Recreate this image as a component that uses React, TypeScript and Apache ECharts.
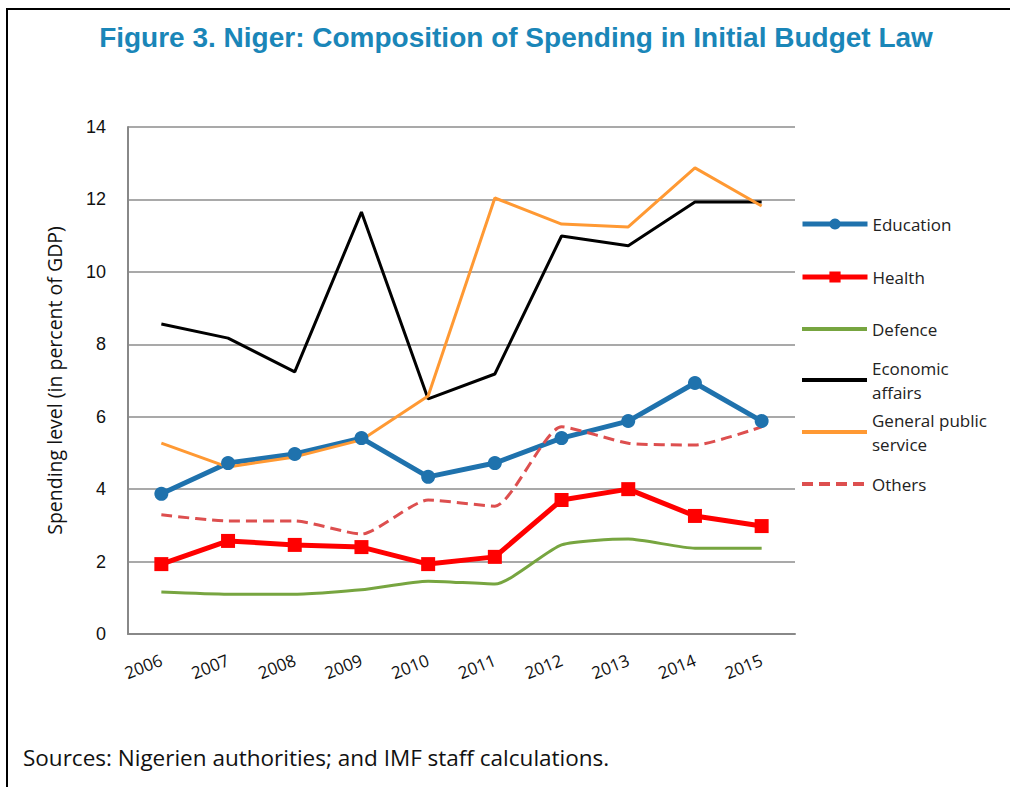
import React, { useEffect, useRef } from "react";
import * as echarts from "echarts";

const years = ["2006", "2007", "2008", "2009", "2010", "2011", "2012", "2013", "2014", "2015"];
const education = [3.87, 4.72, 4.97, 5.41, 4.34, 4.72, 5.41, 5.88, 6.93, 5.88];
const health = [1.93, 2.57, 2.46, 2.4, 1.93, 2.13, 3.7, 4.0, 3.26, 2.98];
const defence = [1.16, 1.1, 1.1, 1.22, 1.46, 1.38, 2.46, 2.62, 2.37, 2.37];
const economic = [8.56, 8.17, 7.24, 11.65, 6.49, 7.18, 10.99, 10.72, 11.93, 11.93];
const general = [5.27, 4.61, 4.89, 5.36, 6.57, 12.04, 11.32, 11.24, 12.87, 11.82];
const others = [3.29, 3.12, 3.12, 2.76, 3.7, 3.53, 5.72, 5.27, 5.22, 5.72];

const seriesNames = ["Education", "Health", "Defence", "Economic affairs", "General public service", "Others"];
const legendLabels = ["Education", "Health", "Defence", "Economic\naffairs", "General public\nservice", "Others"];
const hasMarker = [true, true, false, false, false, false];

const FONT = "'Open Sans', 'Noto Sans', sans-serif";

export default function App() {
  const ref = useRef<HTMLDivElement>(null);
  useEffect(() => {
    if (!ref.current) return;
    const chart = echarts.init(ref.current, null, { renderer: "svg" });
    const centers = [224, 277, 329, 380, 432, 484];
    const legends = seriesNames.map((name, i) => {
      const multi = legendLabels[i].includes("\n");
      return {
        orient: "vertical",
        left: 800,
        top: multi ? centers[i] - 36 : centers[i] - 12,
        data: [name],
        itemWidth: 65,
        itemHeight: 14,
        padding: 0,
        selectedMode: false,
        formatter: () => legendLabels[i],
        itemStyle: hasMarker[i] ? {} : { opacity: 0 },
        lineStyle: { width: hasMarker[i] ? 5 : 4 },
        textStyle: {
          fontFamily: FONT,
          fontSize: 17,
          color: "#222",
          lineHeight: 24,
          padding: multi ? [24, 0, 0, 0] : 0,
        },
      };
    });
    chart.setOption({
      animation: false,
      backgroundColor: "#fff",
      title: {
        text: "Figure 3. Niger: Composition of Spending in Initial Budget Law",
        left: 511,
        textAlign: "center",
        top: 18,
        textStyle: {
          fontFamily: "'Liberation Sans', sans-serif",
          fontWeight: "bold",
          fontSize: 28,
          color: "#1a86b8",
        },
      },
      legend: legends,
      grid: { left: 128, top: 127, right: 215, bottom: 153 },
      xAxis: {
        type: "category",
        data: years,
        boundaryGap: true,
        axisLine: { lineStyle: { color: "#888", width: 2 } },
        axisTick: { show: false },
        axisLabel: {
          rotate: 22,
          fontFamily: FONT,
          fontSize: 17,
          color: "#111",
          margin: 25,
        },
      },
      yAxis: {
        type: "value",
        min: 0,
        max: 14,
        interval: 2,
        name: "Spending level (in percent of GDP)",
        nameLocation: "middle",
        nameGap: 64,
        nameTextStyle: { fontFamily: FONT, fontSize: 19.5, color: "#111" },
        axisLine: { show: true, lineStyle: { color: "#888", width: 2 } },
        axisTick: { show: false },
        splitLine: { lineStyle: { color: "#8c8c8c", width: 1.5 } },
        axisLabel: {
          fontFamily: "'Liberation Sans', Arial, sans-serif",
          fontSize: 18,
          color: "#111",
          margin: 22,
        },
      },
      series: [
        {
          name: "Education",
          type: "line",
          data: education,
          symbol: "circle",
          symbolSize: 14,
          lineStyle: { color: "#1f72ad", width: 5 },
          itemStyle: { color: "#1f72ad" },
        },
        {
          name: "Health",
          type: "line",
          data: health,
          symbol: "rect",
          symbolSize: 14,
          lineStyle: { color: "#ff0000", width: 5 },
          itemStyle: { color: "#ff0000" },
        },
        {
          name: "Defence",
          type: "line",
          data: defence,
          symbol: "none",
          smooth: 0.2,
          lineStyle: { color: "#77a540", width: 3 },
          itemStyle: { color: "#77a540" },
        },
        {
          name: "Economic affairs",
          type: "line",
          data: economic,
          symbol: "none",
          lineStyle: { color: "#000000", width: 3 },
          itemStyle: { color: "#000000" },
        },
        {
          name: "General public service",
          type: "line",
          data: general,
          symbol: "none",
          lineStyle: { color: "#ff9933", width: 3 },
          itemStyle: { color: "#ff9933" },
        },
        {
          name: "Others",
          type: "line",
          data: others,
          symbol: "none",
          smooth: 0.2,
          lineStyle: { color: "#dd4f4f", width: 3, type: [11, 6] },
          itemStyle: { color: "#dd4f4f" },
        },
      ],
      graphic: [
        {
          type: "line",
          shape: { x1: 7, y1: 9, x2: 1010, y2: 9 },
          style: { stroke: "#000", lineWidth: 2 },
        },
        {
          type: "line",
          shape: { x1: 7, y1: 8, x2: 7, y2: 787 },
          style: { stroke: "#000", lineWidth: 2 },
        },
        {
          type: "text",
          left: 23,
          top: 746,
          style: {
            text: "Sources: Nigerien authorities; and IMF staff calculations.",
            fontFamily: FONT,
            fontSize: 22.5,
            fill: "#111",
          },
        },
      ],
    });
    return () => chart.dispose();
  }, []);
  return (
    <div
      ref={ref}
      style={{ position: "absolute", left: 0, top: 0, width: 1010, height: 787 }}
    />
  );
}
